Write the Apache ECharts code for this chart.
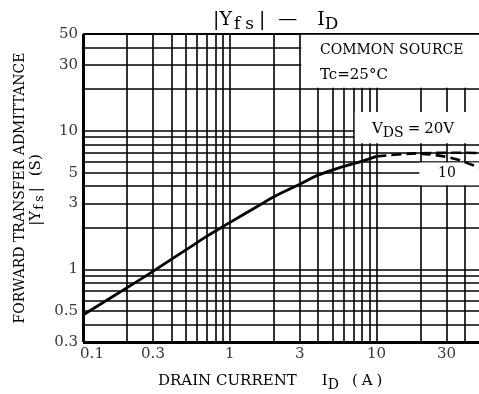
<!DOCTYPE html>
<html>
<head>
<meta charset="utf-8">
<script src="https://cdn.jsdelivr.net/npm/echarts@6/dist/echarts.min.js"></script>
<style>html,body{margin:0;padding:0;background:#fff;}#c{width:479px;height:394px;}</style>
</head>
<body>
<div id="c"></div>
<script>
// ---- data ----
const xTicks = [0.1, 0.3, 1, 3, 10, 30];
const xTickLabels = ['0.1', '0.3', '1', '3', '10', '30'];
const yTicks = [0.3, 0.5, 1, 3, 5, 10, 30, 50];
const yTickLabels = ['0.3', '0.5', '1', '3', '5', '10', '30', '50'];
const gridX = [0.2, 0.3, 0.4, 0.5, 0.6, 0.7, 0.8, 0.9, 1, 2, 3, 4, 5, 6, 7, 8, 9, 10, 20, 30, 40];
const gridY = [0.4, 0.5, 0.6, 0.7, 0.8, 0.9, 1, 2, 3, 4, 5, 6, 7, 8, 9, 10, 20, 30, 40];
const idSolid = [0.1, 0.2, 0.3, 0.5, 0.7, 1, 1.5, 2, 3, 4, 6, 8, 10];
const yfsSolid = [0.47, 0.74, 0.97, 1.38, 1.74, 2.18, 2.8, 3.35, 4.12, 4.8, 5.55, 6.05, 6.55];
const id20 = [10, 15, 20, 30, 40, 50];
const yfs20 = [6.55, 6.8, 6.9, 6.95, 6.95, 6.92];
const id10 = [20, 25, 30, 35, 40, 50];
const yfs10 = [6.85, 6.7, 6.5, 6.25, 5.95, 5.45];
// white label boxes (data coords: [x1, y1, x2, y2])
const boxCommon = [3.07, 20.5, 50, 49.3];
const boxVds = [7.12, 8.15, 50, 13.7];
const box10 = [19.6, 4.05, 50, 5.92];

const FONT = 'DejaVu Serif';
const zip = (a, b) => a.map((v, i) => [v, b[i]]);
const area = b => [{ xAxis: b[0], yAxis: b[1] }, { xAxis: b[2], yAxis: b[3] }];
const ts = (size, pad) => ({ fontFamily: FONT, fontSize: size, fill: '#000', padding: pad || [0, 0, 0, 0] });

const chart = echarts.init(document.getElementById('c'), null, { renderer: 'canvas' });

const gridLines = [];
gridX.forEach(v => gridLines.push({ xAxis: v }));
gridY.forEach(v => gridLines.push({ yAxis: v }));
gridLines.push({ xAxis: 0.1, lineStyle: { width: 3 } });
gridLines.push({ yAxis: 0.3, lineStyle: { width: 3 } });
gridLines.push({ yAxis: 50, lineStyle: { width: 2 } });

const txt = (x, y, style, extra) => Object.assign({
  type: 'text', x: x, y: y, z: 10,
  style: Object.assign({
    fill: '#000', align: 'left', verticalAlign: 'middle', textAlign: 'left', textVerticalAlign: 'middle'
  }, style)
}, extra || {});

const option = {
  animation: false,
  backgroundColor: '#fff',
  grid: { left: 83, top: 34, width: 401.6, height: 308 },
  xAxis: {
    type: 'log', logBase: 10, min: 0.1, max: 50,
    axisLine: { show: false }, axisTick: { show: false }, axisLabel: { show: false },
    splitLine: { show: false }, minorSplitLine: { show: false }
  },
  yAxis: {
    type: 'log', logBase: 10, min: 0.3, max: 50,
    axisLine: { show: false }, axisTick: { show: false }, axisLabel: { show: false },
    splitLine: { show: false }, minorSplitLine: { show: false }
  },
  series: [
    {
      name: 'grid', type: 'line', data: [], silent: true, z: 1,
      markLine: {
        z: 1, silent: true, symbol: 'none', animation: false,
        label: { show: false },
        lineStyle: { color: '#000', width: 1.6, type: 'solid' },
        emphasis: { disabled: true },
        data: gridLines
      },
      markArea: {
        z: 2, silent: true, animation: false,
        itemStyle: { color: '#fff', borderWidth: 0 },
        label: { show: false },
        emphasis: { disabled: true },
        data: [area(boxCommon), area(boxVds), area(box10)]
      }
    },
    {
      name: 'solid', type: 'line', z: 5, data: zip(idSolid, yfsSolid), smooth: 0.4,
      symbol: 'none', lineStyle: { color: '#000', width: 2.8 }, silent: true, clip: true
    },
    {
      name: 'vds20', type: 'line', z: 5, data: zip(id20, yfs20), smooth: 0.4,
      symbol: 'none', lineStyle: { color: '#000', width: 2.6, type: [10, 5] }, silent: true, clip: true
    },
    {
      name: 'vds10', type: 'line', z: 5, data: zip(id10, yfs10), smooth: 0.4,
      symbol: 'none', lineStyle: { color: '#000', width: 2.6, type: [10, 5] }, silent: true, clip: true
    },
    {
      name: 'xlabels', type: 'scatter', z: 6, symbolSize: 0, silent: true, clip: false,
      data: xTicks.map((v, i) => ({
        value: [v, yTicks[0]], name: xTickLabels[i],
        label: i === 0 ? { offset: [9, 0] } : {}
      })),
      label: {
        show: true, position: 'bottom', distance: 5, formatter: p => p.name,
        fontFamily: FONT, fontSize: 15, color: '#000'
      }
    },
    {
      name: 'ylabels', type: 'scatter', z: 6, symbolSize: 0, silent: true, clip: false,
      data: yTicks.map((v, i) => ({ value: [xTicks[0], v], name: yTickLabels[i] })),
      label: {
        show: true, position: 'left', distance: 5, formatter: p => p.name,
        fontFamily: FONT, fontSize: 15, color: '#000'
      }
    }
  ],
  graphic: [
    txt(213, 20, {
      text: '{a||Y}{f|f}{g|s}{b||}{b|—}{c|I}{s2|D}',
      rich: {
        a: ts(19), f: ts(17, [10, 0, 0, 2]), g: ts(17, [10, 0, 0, 5]), b: ts(19, [0, 8, 0, 5]),
        c: ts(19, [0, 0, 0, 12]), s2: ts(17, [10, 0, 0, 0])
      }
    }),
    txt(20, 188, {
      text: 'FORWARD TRANSFER ADMITTANCE', font: '14px "DejaVu Serif"',
      align: 'center', textAlign: 'center'
    }, { rotation: Math.PI / 2 }),
    txt(36, 190, {
      text: '{a||Y}{f|f}{g|s}{b||}{p|(S)}',
      align: 'center', textAlign: 'center',
      rich: { a: ts(15), f: ts(13, [8, 0, 0, 1]), g: ts(13, [8, 0, 0, 3]), b: ts(15, [0, 0, 0, 3]), p: ts(15, [0, 0, 0, 11]) }
    }, { rotation: Math.PI / 2 }),
    txt(158, 381, {
      text: '{n|DRAIN CURRENT}{i|I}{s|D}{p|(}{q|A}{q|)}',
      rich: {
        n: ts(15), i: ts(15, [0, 0, 0, 25]), s: ts(14, [9, 0, 0, 0]),
        p: ts(15, [0, 0, 0, 13]), q: ts(15, [0, 0, 0, 4])
      }
    }),
    txt(320, 50, { text: 'COMMON SOURCE', font: '14px "DejaVu Serif"' }),
    txt(320, 75, { text: 'Tc=25°C', font: '15px "DejaVu Serif"' }),
    txt(372, 129, {
      text: '{n|V}{s|DS}{n|=}{m|20V}',
      rich: { n: ts(15), s: ts(14, [8, 4, 0, 0]), m: ts(15, [0, 0, 0, 4]) }
    }),
    txt(447, 173, { text: '10', font: '14px "DejaVu Serif"', align: 'center', textAlign: 'center' })
  ]
};
chart.setOption(option);
</script>
</body>
</html>
